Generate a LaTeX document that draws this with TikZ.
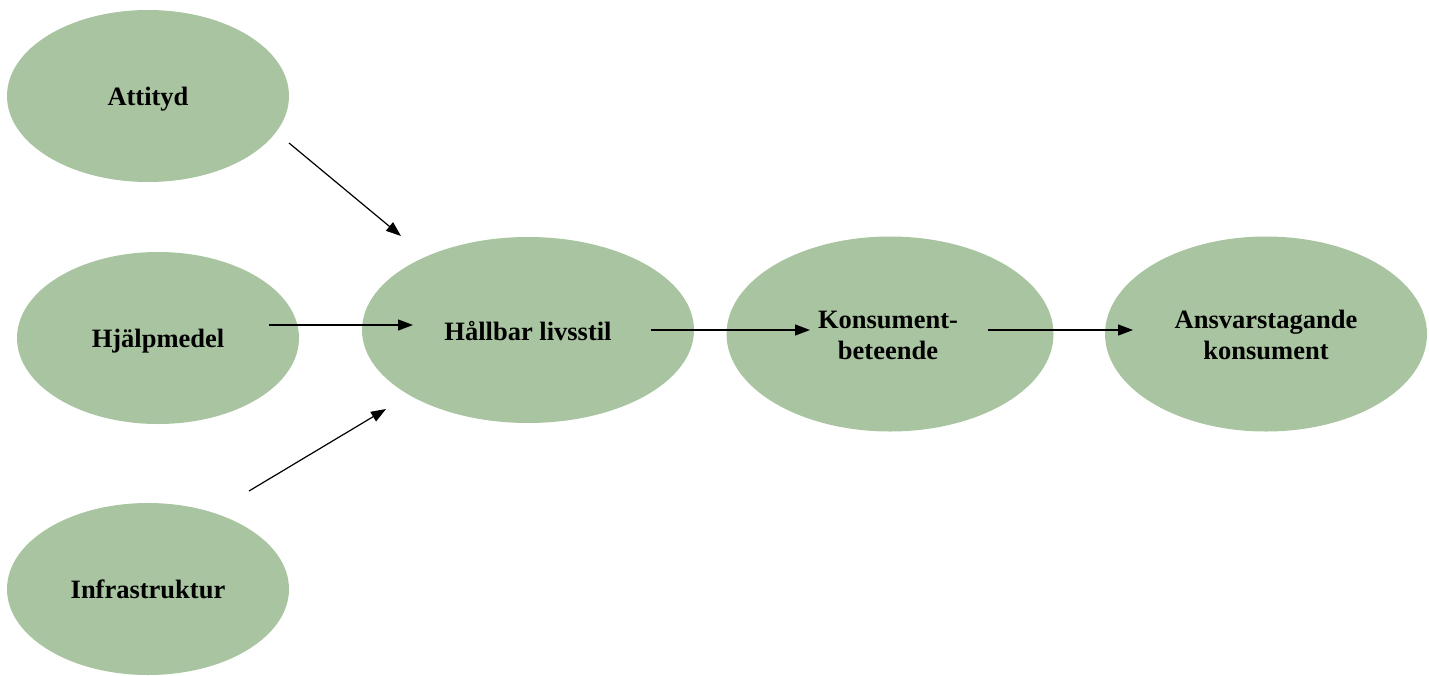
\documentclass[tikz,border=0pt]{standalone}
\usepackage{fontspec}
\setmainfont{Liberation Serif}
\usetikzlibrary{shapes.geometric,arrows.meta}
\definecolor{ellgreen}{RGB}{169,196,160}
\tikzset{
  blob/.style={ellipse, fill=ellgreen, draw=none, inner sep=0pt},
  lbl/.style={inner sep=0pt, align=center, font=\fontsize{26.5}{31}\selectfont\bfseries},
  lblone/.style={lbl, anchor=base},
  conn/.style={line width=1.2pt, -{Triangle[length=15pt,width=11pt]}}
}
\begin{document}
\begin{tikzpicture}[x=1pt,y=-1pt]
\useasboundingbox (0,0) rectangle (1429,675);
\node[blob, minimum width=282pt, minimum height=172pt] (att) at (148,96) {};
\node[blob, minimum width=282pt, minimum height=172pt] (hjm) at (158,338) {};
\node[blob, minimum width=282pt, minimum height=172pt] (inf) at (148,589) {};
\node[blob, minimum width=332pt, minimum height=186pt] (hll) at (528,330) {};
\node[blob, minimum width=327pt, minimum height=195pt] (kon) at (890,334) {};
\node[blob, minimum width=322pt, minimum height=195pt] (ans) at (1266,334) {};
\node[lblone] (att-t) at ([yshift=-9pt]att.center) {Attityd};
\node[lblone] (hjm-t) at ([yshift=-9.5pt]hjm.center) {Hjälpmedel};
\node[lblone] (inf-t) at ([yshift=-9pt]inf.center) {Infrastruktur};
\node[lblone] (hll-t) at ([yshift=-10pt]hll.center) {Hållbar livsstil};
\node[lbl] (kon-t) at ([xshift=-2pt,yshift=-1pt]kon.center) {Konsument-\\beteende};
\node[lbl] (ans-t) at ([yshift=-1pt]ans.center) {Ansvarstagande\\konsument};
\coordinate (a1) at (289,143);
\coordinate (a2) at (401,236);
\coordinate (b1) at (269,325);
\coordinate (b2) at (413,325);
\coordinate (c1) at (249,491);
\coordinate (c2) at (386,409);
\coordinate (d1) at (651,330);
\coordinate (d2) at (810,330);
\coordinate (e1) at (988,330);
\coordinate (e2) at (1133,330);
\draw[conn] (a1) -- (a2);
\draw[conn] (b1) -- (b2);
\draw[conn] (c1) -- (c2);
\draw[conn] (d1) -- (d2);
\draw[conn] (e1) -- (e2);
\end{tikzpicture}
\end{document}
